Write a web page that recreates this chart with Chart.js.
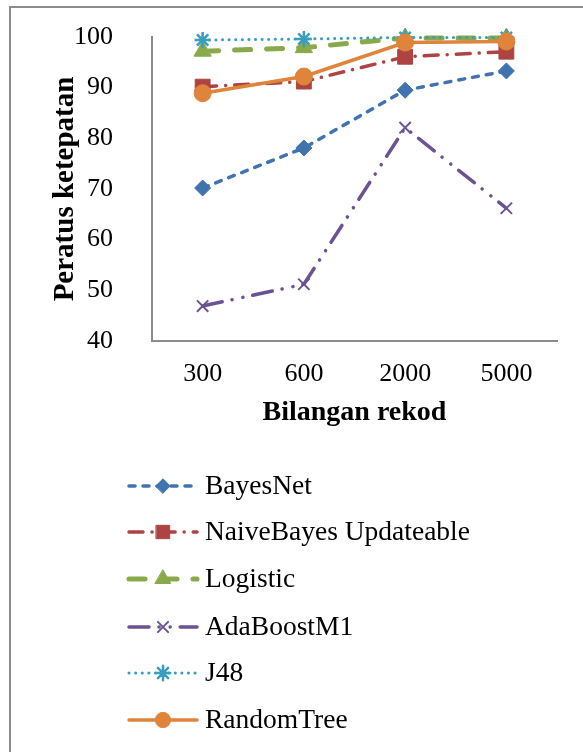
<!DOCTYPE html>
<html>
<head>
<meta charset="utf-8">
<script src="https://cdn.jsdelivr.net/npm/chart.js@4"></script>
<style>
  html, body { margin: 0; padding: 0; background: #fff; }
  #wrap { width: 583px; height: 752px; }
</style>
</head>
<body>
<div id="wrap"><canvas id="accuracy-chart" width="583" height="752"></canvas></div>
<script>
const records = ["300", "600", "2000", "5000"];
const yTicks = [40, 50, 60, 70, 80, 90, 100];

const seriesNames = ["BayesNet", "NaiveBayes Updateable", "Logistic", "AdaBoostM1", "J48", "RandomTree"];
const bayesNet = [70.2, 78.1, 89.5, 93.3];
const naiveBayes = [90.2, 91.2, 96.1, 97.1];
const logistic = [97.2, 97.9, 99.8, 99.8];
const adaBoost = [46.9, 51.2, 82.1, 66.2];
const j48 = [99.4, 99.6, 99.9, 99.9];
const randomTree = [88.9, 92.2, 98.9, 99.1];

const FONT = "'Liberation Serif', 'Times New Roman', serif";

function line(label, data, color, width, dash, pointStyle, radius, order, pointBorder) {
  return {
    label: label,
    data: data,
    borderColor: color,
    backgroundColor: color,
    borderWidth: width,
    borderDash: dash,
    borderCapStyle: "round",
    tension: 0,
    pointStyle: pointStyle,
    pointRadius: radius,
    pointHoverRadius: radius,
    pointBackgroundColor: color,
    pointBorderColor: color,
    pointBorderWidth: pointBorder,
    clip: false,
    order: order,
  };
}

const datasets = [
  line(seriesNames[0], bayesNet, "#4173ae", 3.5, [6, 8], "rectRot", 8, 5, 1),
  line(seriesNames[1], naiveBayes, "#ad4441", 3.5, [14, 9, 0.1, 9], "rect", 10.5, 4, 1),
  line(seriesNames[2], logistic, "#8aa94b", 5, [16, 16], "triangle", 10, 3, 1),
  line(seriesNames[3], adaBoost, "#6b5293", 3.5, [20, 10, 0.1, 11, 0.1, 10], "crossRot", 8, 2, 2),
  line(seriesNames[4], j48, "#3a9dbd", 3, [0.1, 6.5], "star", 8, 1, 2.5),
  line(seriesNames[5], randomTree, "#e0843c", 3.5, [], "circle", 8.5, 0, 1),
];

// outer frame + vertical legend drawn on the canvas
const framePlugin = {
  id: "frame",
  beforeDraw(chart) {
    const c = chart.ctx;
    c.save();
    c.strokeStyle = "#8c8c8c";
    c.lineWidth = 2;
    c.beginPath();
    c.moveTo(10, 760);
    c.lineTo(10, 7);
    c.lineTo(600, 7);
    c.stroke();
    c.restore();
  },
  afterDraw(chart) {
    const c = chart.ctx;
    const rows = [486, 532, 579, 627, 673, 720];
    chart.data.datasets.forEach((ds, i) => {
      const y = rows[i];
      c.save();
      c.strokeStyle = ds.borderColor;
      c.lineWidth = ds.borderWidth;
      c.lineCap = "round";
      c.setLineDash(ds.borderDash);
      c.beginPath();
      c.moveTo(129, y);
      c.lineTo(197, y);
      c.stroke();
      c.setLineDash([]);
      c.fillStyle = ds.pointBackgroundColor;
      c.strokeStyle = ds.pointBorderColor;
      c.lineWidth = ds.pointBorderWidth;
      Chart.helpers.drawPoint(c, { pointStyle: ds.pointStyle, radius: ds.pointRadius * 0.9, rotation: 0, borderWidth: ds.pointBorderWidth }, 163, y);
      c.fillStyle = "#000";
      c.font = "27.5px " + FONT;
      c.textBaseline = "middle";
      c.fillText(ds.label, 205, y + 1);
      c.restore();
    });
  },
};

const ctx = document.getElementById("accuracy-chart").getContext("2d");
const chart = new Chart(ctx, {
  type: "line",
  data: { labels: records, datasets: datasets },
  options: {
    responsive: false,
    animation: false,
    events: [],
    layout: { padding: { left: 0, top: 37, right: 26, bottom: 752 - 341 - 89 } },
    plugins: { legend: { display: false }, tooltip: { enabled: false } },
    scales: {
      x: {
        type: "category",
        offset: true,
        grid: { display: false, drawTicks: false },
        border: { display: true, color: "#8c8c8c", width: 2 },
        ticks: { color: "#000", padding: 18, font: { family: FONT, size: 26 } },
        title: { display: true, text: "Bilangan rekod", color: "#000", padding: 0, font: { family: FONT, size: 28, weight: "bold" } },
        afterFit(scale) { scale.height = 89; },
      },
      y: {
        min: 40,
        max: 100,
        afterBuildTicks(scale) { scale.ticks = yTicks.map(v => ({ value: v })); },
        grid: { display: false, drawTicks: false },
        border: { display: true, color: "#8c8c8c", width: 2 },
        ticks: { color: "#000", padding: 39, font: { family: FONT, size: 26 } },
        title: { display: true, text: "Peratus ketepatan", color: "#000", padding: { top: 48, bottom: 0 }, font: { family: FONT, size: 29, weight: "bold" } },
        afterFit(scale) {
          scale.width = 152;
          scale.paddingTop = 16;
          scale.paddingBottom = 16;
        },
      },
    },
  },
  plugins: [framePlugin],
});
</script>
</body>
</html>
